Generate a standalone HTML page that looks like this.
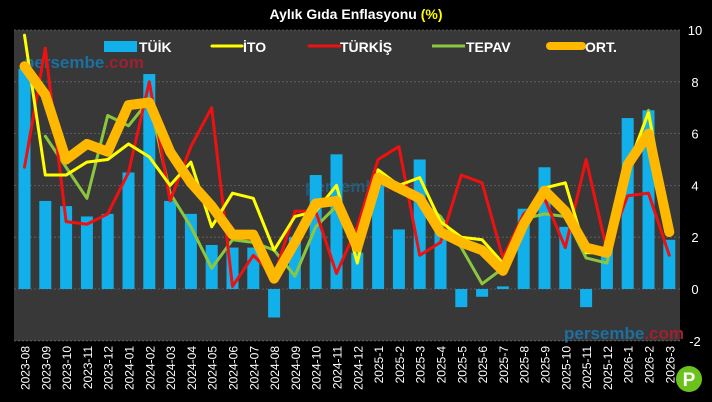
<!DOCTYPE html><html><head><meta charset="utf-8"><style>body{margin:0;background:#000;width:712px;height:402px;overflow:hidden}svg{display:block}text{font-family:"Liberation Sans",sans-serif}</style></head><body>
<svg id="s" width="712" height="402" xmlns="http://www.w3.org/2000/svg"></svg>
<script>
const s=document.getElementById('s');
const X0=14,X1=680,Y=v=>289-25.9*v,cx=i=>24.5+20.8*i;
let h='';
h+=`<rect x="${X0}" y="30" width="${X1-X0}" height="311" fill="#383838"/>`;
for(let v=-2;v<=10;v+=2){h+=`<line x1="${X0}" x2="${X1}" y1="${Y(v)}" y2="${Y(v)}" stroke="#666" stroke-dasharray="2,2" stroke-width="0.8"/>`;
h+=`<text x="695" y="${Y(v)+5}" fill="#fff" font-size="13" text-anchor="middle">${v}</text>`;}
h+=`<text x="250" y="70" fill="#1d6fa0" font-size="17" font-weight="bold">persembe<tspan fill="#a02030">.com</tspan></text>`;
h+=`<text x="305" y="192" fill="#1d6fa0" font-size="17" font-weight="bold" opacity="0.6">persembe<tspan fill="#a02030">.com</tspan></text>`;
h+=`<text x="564" y="339" fill="#1d6fa0" font-size="17" font-weight="bold">persembe<tspan fill="#a02030">.com</tspan></text>`;
h=h.replace('x="250" y="70"','x="24" y="68"');
const tuik=[8.5,3.4,3.2,2.8,2.9,4.5,8.3,3.4,2.9,1.7,1.6,1.6,-1.1,2.0,4.4,5.2,1.4,4.0,2.3,5.0,2.5,-0.7,-0.3,0.1,3.1,4.7,2.4,-0.7,1.6,6.6,6.9,1.9];
const ito=[9.8,4.4,4.4,4.9,5.0,5.6,5.1,4.0,4.9,2.4,3.7,3.5,1.5,2.8,3.0,4.0,1.0,4.6,4.0,4.3,2.6,2.0,1.9,1.0,2.6,3.9,4.1,1.4,1.4,4.7,6.8,2.4];
const tur=[4.7,9.3,2.6,2.5,2.9,4.5,8.0,3.4,5.5,7.0,0.1,1.3,0.5,3.0,3.0,0.6,2.4,5.0,5.5,1.3,1.8,4.4,4.1,1.2,2.9,3.5,1.6,5.0,1.5,3.6,3.7,1.3];
const tep=[null,5.9,4.7,3.5,6.7,6.3,7.3,3.7,2.4,0.8,1.9,1.8,1.5,0.5,2.4,3.2,1.5,4.3,3.8,3.4,2.8,1.6,0.2,0.8,2.7,2.9,2.8,1.2,1.0,4.5,6.9,2.3];
const ort=[8.6,7.5,5.0,5.6,5.3,7.1,7.2,5.3,4.1,3.2,2.1,2.1,0.4,1.8,3.3,3.4,1.6,4.3,3.9,3.5,2.2,1.8,1.5,0.7,2.5,3.8,3.0,1.6,1.4,4.8,6.0,2.2];
tuik.forEach((v,i)=>{const y=Math.min(Y(v),Y(0)),hh=Math.abs(Y(v)-Y(0));h+=`<rect x="${cx(i)-6}" y="${y}" width="12" height="${hh}" fill="#12b0ea"/>`;});
const line=(a,c,w)=>{let p=a.map((v,i)=>v==null?null:cx(i)+','+Y(v)).filter(x=>x).join(' ');return `<polyline points="${p}" fill="none" stroke="${c}" stroke-width="${w}" stroke-linejoin="round" stroke-linecap="round"/>`;};
h+=line(tep,'#8cc63f',3)+line(tur,'#ee1111',3)+line(ito,'#ffff00',3)+line(ort,'#ffb800',10);
const labs=[];for(let m=8;m<=12;m++)labs.push('2023-'+String(m).padStart(2,'0'));for(let m=1;m<=12;m++)labs.push('2024-'+String(m).padStart(2,'0'));for(let m=1;m<=12;m++)labs.push('2025-'+m);for(let m=1;m<=3;m++)labs.push('2026-'+m);
labs.forEach((l,i)=>{h+=`<text transform="translate(${cx(i)+5},346) rotate(-90)" fill="#fff" font-size="12" text-anchor="end">${l}</text>`;});
h+=`<text x="356" y="19" fill="#fff" font-size="14" font-weight="bold" text-anchor="middle">Aylık Gıda Enflasyonu <tspan fill="#ffff00">(%)</tspan></text>`;
// legend
h+=`<rect x="104" y="41" width="33" height="11" fill="#12b0ea"/><text x="139" y="52" fill="#fff" font-size="14" font-weight="bold">TÜİK</text>`;
h+=`<line x1="212" x2="242" y1="46" y2="46" stroke="#ff0" stroke-width="3" stroke-linecap="round"/><text x="243" y="52" fill="#fff" font-size="14" font-weight="bold">İTO</text>`;
h+=`<line x1="309" x2="340" y1="46" y2="46" stroke="#e11" stroke-width="3" stroke-linecap="round"/><text x="340" y="52" fill="#fff" font-size="14" font-weight="bold">TÜRKİŞ</text>`;
h+=`<line x1="432" x2="465" y1="46" y2="46" stroke="#8cc63f" stroke-width="3"/><text x="466" y="52" fill="#fff" font-size="14" font-weight="bold">TEPAV</text>`;
h+=`<line x1="550" x2="582" y1="46" y2="46" stroke="#ffb800" stroke-width="8" stroke-linecap="round"/><text x="585" y="52" fill="#fff" font-size="14" font-weight="bold">ORT.</text>`;
h+=`<circle cx="689" cy="379" r="13" fill="#6cc21d"/><text x="689" y="386" fill="#fff" font-size="19" font-weight="bold" text-anchor="middle">P</text>`;
s.innerHTML=h;
</script></body></html>
